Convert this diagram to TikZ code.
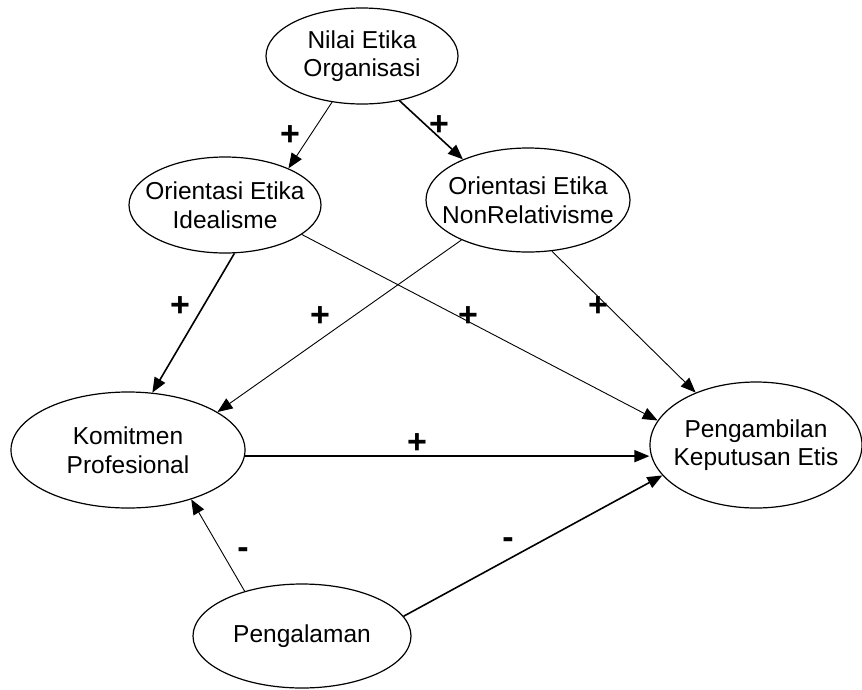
\documentclass[tikz,border=0pt]{standalone}
\usepackage{fontspec}
\setmainfont{Liberation Sans}
\usetikzlibrary{arrows.meta,shapes.geometric}
\begin{document}
\begin{tikzpicture}[x=1pt,y=-1pt,
  var/.style={draw, ellipse, line width=1.2pt, inner sep=0pt},
  vtext/.style={align=center, inner sep=0pt, font=\fontsize{24.5}{28.5}\selectfont},
  link/.style={-{Triangle[length=15pt,width=12pt]}, line width=0.9pt},
  thicklink/.style={-{Triangle[length=15pt,width=12pt]}, line width=1.6pt},
  sign/.style={inner sep=0pt, font=\fontsize{34}{34}\selectfont\bfseries}]
\useasboundingbox (0,0) rectangle (862,689);
\node[var, minimum width=192pt, minimum height=96pt, label={[vtext]center:Nilai Etika\\Organisasi}] (N) at (362,56) {};
\node[var, minimum width=192pt, minimum height=96pt, label={[vtext]center:Orientasi Etika\\Idealisme}] (I) at (225,205) {};
\node[var, minimum width=204pt, minimum height=104pt, label={[vtext]center:Orientasi Etika\\NonRelativisme}] (R) at (528,200) {};
\node[var, minimum width=234pt, minimum height=116pt, label={[vtext]center:Komitmen\\Profesional}] (K) at (128,450) {};
\node[var, minimum width=212pt, minimum height=126pt, label={[vtext]center:Pengambilan\\Keputusan Etis}] (P) at (756,445) {};
\node[var, minimum width=218pt, minimum height=104pt, label={[vtext]center:Pengalaman}] (G) at (302,636) {};
\draw[link] (N.237.4) -- (I.30.3);
\draw[thicklink] (N.310.7) -- (R.148.4);
\draw[thicklink] (I.281.5) -- (K.67.4);
\draw[link] (R.211.6) -- (K.23.1);
\draw[link] (I.339.5) -- (P.166.8);
\draw[link] (R.295.3) -- (P.139.3);
\draw[thicklink] (K.357.5) -- (K.357.5 -| P.west);
\draw[link] (G.142) -- (K.322.4);
\draw[thicklink] (G.11.5) -- (P.198.4);
\node[sign] (s1) at (290,136) {+};
\node[sign] (s2) at (439,126) {+};
\node[sign] (s3) at (180,307) {+};
\node[sign] (s4) at (320,317) {+};
\node[sign] (s5) at (468,317) {+};
\node[sign] (s6) at (598,307) {+};
\node[sign] (s7) at (417,444) {+};
\node[sign] (s8) at (243,553) {-};
\node[sign] (s9) at (508,543) {-};
\end{tikzpicture}
\end{document}
